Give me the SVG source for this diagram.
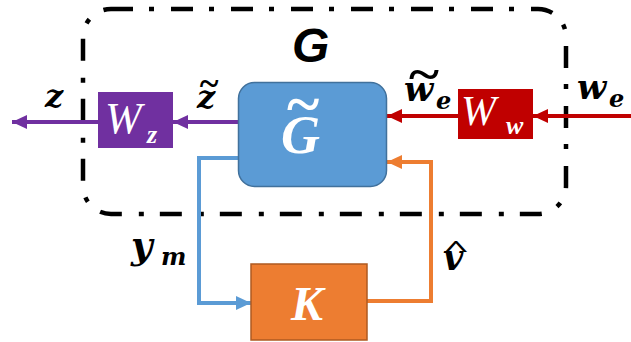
<svg xmlns="http://www.w3.org/2000/svg" width="631" height="342" viewBox="0 0 631 342">
<defs>
<style>
.lab{font-family:"DejaVu Serif",serif;font-style:italic;font-weight:bold;fill:#000}
.acc{font-family:"Liberation Serif",serif;font-weight:bold;fill:#000}
.wt{font-family:"Liberation Serif",serif;font-style:italic;fill:#fff}
.wtb{font-family:"Liberation Serif",serif;font-style:italic;font-weight:bold;fill:#fff}
.ln{fill:none;stroke-width:4}
</style>
<marker id="aP" markerUnits="userSpaceOnUse" markerWidth="16" markerHeight="14" refX="15" refY="7" orient="auto"><path d="M0,0 L15,7 L0,14 z" fill="#7030A0"/></marker>
<marker id="aR" markerUnits="userSpaceOnUse" markerWidth="16" markerHeight="14" refX="15" refY="7" orient="auto"><path d="M0,0 L15,7 L0,14 z" fill="#C00000"/></marker>
<marker id="aB" markerUnits="userSpaceOnUse" markerWidth="16" markerHeight="14" refX="15" refY="7" orient="auto"><path d="M0,0 L15,7 L0,14 z" fill="#5B9BD5"/></marker>
<marker id="aO" markerUnits="userSpaceOnUse" markerWidth="16" markerHeight="14" refX="15" refY="7" orient="auto"><path d="M0,0 L15,7 L0,14 z" fill="#ED7D31"/></marker>
</defs>
<rect width="631" height="342" fill="#fff"/>

<g id="G-boundary">
<rect x="83" y="9" width="483" height="205" rx="28" ry="28" fill="none" stroke="#000" stroke-width="4.5" stroke-dasharray="22 16 5 17"/>
<text x="292" y="62" font-family="'Liberation Sans',sans-serif" font-style="italic" font-weight="bold" font-size="48" fill="#000">G</text>
</g>

<g id="connectors">
<line class="ln" x1="238" y1="122" x2="173" y2="122" stroke="#7030A0" marker-end="url(#aP)"/>
<line class="ln" x1="98" y1="122" x2="12" y2="122" stroke="#7030A0" marker-end="url(#aP)"/>
<line class="ln" x1="631" y1="116" x2="533" y2="116" stroke="#C00000" marker-end="url(#aR)"/>
<line class="ln" x1="458" y1="116" x2="387" y2="116" stroke="#C00000" marker-end="url(#aR)"/>
<polyline class="ln" points="238,158 199,158 199,303 251,303" stroke="#5B9BD5" marker-end="url(#aB)"/>
<polyline class="ln" points="367,301 431,301 431,162 387,162" stroke="#ED7D31" marker-end="url(#aO)"/>
</g>

<g id="Gtilde">
<rect x="238.5" y="82.5" width="148" height="104" rx="16" ry="16" fill="#5B9BD5" stroke="#41719C" stroke-width="1.5"/>
<text class="wtb" x="281" y="153" font-size="54">G</text>
<text x="303" y="124" text-anchor="middle" font-family="'Liberation Serif',serif" font-weight="bold" font-size="62" fill="#fff">~</text>
</g>

<g id="Wz">
<rect x="98" y="92" width="75" height="56" fill="#7030A0"/>
<text class="wt" x="105" y="133" font-size="44">W</text>
<text class="wtb" x="147" y="143" font-size="26">z</text>
</g>

<g id="Ww">
<rect x="458" y="89" width="75" height="50" fill="#C00000"/>
<text class="wt" x="461" y="125" font-size="42">W</text>
<text class="wtb" x="506" y="134" font-size="26">w</text>
</g>

<g id="K">
<rect x="251" y="264" width="116" height="76" fill="#ED7D31" stroke="#AE5A21" stroke-width="1.5"/>
<text class="wtb" x="291" y="320" font-size="48">K</text>
</g>

<g id="labels">
<text class="lab" x="45" y="107" font-size="32">z</text>
<text class="lab" x="197" y="108" font-size="32">z</text>
<text class="acc" x="209" y="95" text-anchor="middle" font-size="36">~</text>
<text class="lab" x="404" y="101" font-size="34">w</text>
<text class="acc" transform="translate(424,90) scale(1.2,1)" text-anchor="middle" font-size="48">~</text>
<text class="lab" x="436" y="109" font-size="24">e</text>
<text class="lab" x="577" y="99" font-size="34">w</text>
<text class="lab" x="609" y="107" font-size="24">e</text>
<text class="lab" x="131" y="258" font-size="37">y</text>
<text class="lab" x="161" y="265" font-size="24">m</text>
<text class="lab" x="443" y="270" font-size="35">v</text>
<text class="acc" transform="translate(456,256) scale(1.6,0.8)" text-anchor="middle" font-size="30">^</text>
</g>
</svg>
